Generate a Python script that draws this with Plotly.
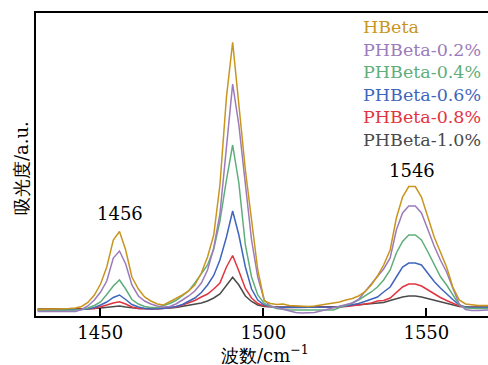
import plotly.graph_objects as go

# Wavenumber grid (cm^-1)
wavenumber = [1430.8, 1432.7, 1434.6, 1436.6, 1438.5, 1440.4, 1442.4, 1444.3, 1446.2, 1448.2,
              1450.1, 1452.0, 1454.0, 1455.9, 1457.8, 1459.7, 1461.7, 1463.6, 1465.5, 1467.5,
              1469.4, 1471.3, 1473.2, 1475.2, 1477.1, 1479.0, 1481.0, 1482.9, 1484.8, 1486.7,
              1488.7, 1490.6, 1492.5, 1494.5, 1496.4, 1498.3, 1500.3, 1502.2, 1504.1, 1506.0,
              1508.0, 1509.9, 1511.8, 1513.8, 1515.7, 1517.6, 1519.6, 1521.5, 1523.4, 1525.3,
              1527.3, 1529.2, 1531.1, 1533.1, 1535.0, 1536.9, 1538.9, 1540.8, 1542.7, 1544.6,
              1546.6, 1548.5, 1550.4, 1552.4, 1554.3, 1556.2, 1558.1, 1560.1, 1562.0, 1563.9,
              1565.9, 1567.8, 1569.7]

hbeta = [-0.005, 0, 0, 0, 0, 0.005, 0.01, 0.025, 0.065, 0.14,
         0.25, 0.42, 0.69, 0.775, 0.59, 0.32, 0.20, 0.12, 0.08, 0.05,
         0.04, 0.07, 0.105, 0.14, 0.18, 0.24, 0.36, 0.52, 0.74, 1.24,
         2.12, 2.667, 2.04, 1.39, 0.89, 0.39, 0.08, 0.055, 0.045, 0.05,
         0.035, 0.03, 0.025, 0.025, 0.03, 0.04, 0.05, 0.06, 0.07, 0.09,
         0.105, 0.13, 0.17, 0.24, 0.33, 0.44, 0.59, 0.91, 1.12, 1.225,
         1.225, 1.12, 0.92, 0.72, 0.57, 0.42, 0.22, 0.09, 0.05, 0.04,
         0.035, 0.035, 0.035]

phbeta_02 = [-0.025, -0.025, -0.025, -0.025, -0.03, -0.03, -0.025, -0.005, 0.03, 0.09,
             0.17, 0.28, 0.51, 0.58, 0.45, 0.24, 0.13, 0.08, 0.05, 0.03,
             0.02, 0.025, 0.05, 0.09, 0.13, 0.18, 0.26, 0.39, 0.61, 0.95,
             1.59, 2.25, 1.84, 1.24, 0.69, 0.32, 0.09, 0.03, 0.015, 0.0,
             -0.02, -0.035, -0.04, -0.04, -0.035, -0.02, -0.005, 0.015, 0.03, 0.04,
             0.06, 0.095, 0.17, 0.25, 0.32, 0.40, 0.51, 0.79, 0.96, 1.03,
             1.03, 0.96, 0.80, 0.63, 0.49, 0.37, 0.21, 0.05, -0.005, -0.015,
             -0.015, -0.01, -0.01]

phbeta_04 = [-0.015, -0.015, -0.015, -0.015, -0.015, -0.015, -0.01, -0.005, 0.01, 0.035,
             0.07, 0.145, 0.23, 0.29, 0.20, 0.095, 0.05, 0.025, 0.015, 0.015,
             0.035, 0.055, 0.085, 0.135, 0.18, 0.26, 0.35, 0.44, 0.60, 0.88,
             1.29, 1.64, 1.26, 0.64, 0.32, 0.14, 0.055, 0.025, 0.005, -0.005,
             -0.01, -0.01, -0.01, -0.01, -0.01, -0.01, -0.01, -0.01, 0.015, 0.035,
             0.06, 0.09, 0.13, 0.17, 0.22, 0.29, 0.39, 0.56, 0.675, 0.74,
             0.74, 0.69, 0.575, 0.44, 0.325, 0.24, 0.14, 0.04, 0.01, 0.005,
             0.005, 0.005, 0.005]

phbeta_06 = [-0.01, -0.01, -0.01, -0.01, -0.01, -0.01, -0.01, -0.005, 0.0, 0.015,
             0.04, 0.07, 0.115, 0.14, 0.095, 0.045, 0.02, 0.005, 0.0, 0.0,
             0.005, 0.015, 0.025, 0.045, 0.075, 0.11, 0.165, 0.24, 0.335, 0.49,
             0.72, 0.98, 0.74, 0.42, 0.20, 0.09, 0.04, 0.025, 0.015, 0.015,
             0.015, 0.015, 0.015, 0.015, 0.015, 0.015, 0.015, 0.015, 0.02, 0.03,
             0.04, 0.055, 0.075, 0.095, 0.12, 0.17, 0.22, 0.32, 0.42, 0.46,
             0.46, 0.44, 0.36, 0.275, 0.21, 0.15, 0.095, 0.04, 0.02, 0.015,
             0.015, 0.015, 0.015]

phbeta_08 = [-0.005, -0.005, -0.005, -0.005, -0.005, -0.005, -0.005, -0.005, 0.0, 0.005,
             0.02, 0.04, 0.06, 0.073, 0.05, 0.02, 0.005, 0.0, 0.0, 0.0,
             0.005, 0.01, 0.02, 0.04, 0.06, 0.085, 0.12, 0.15, 0.20, 0.26,
             0.42, 0.535, 0.38, 0.205, 0.11, 0.055, 0.03, 0.02, 0.015, 0.015,
             0.015, 0.015, 0.015, 0.015, 0.015, 0.015, 0.015, 0.015, 0.02, 0.025,
             0.03, 0.04, 0.05, 0.06, 0.08, 0.085, 0.11, 0.17, 0.22, 0.25,
             0.25, 0.23, 0.19, 0.15, 0.115, 0.085, 0.055, 0.03, 0.02, 0.015,
             0.015, 0.015, 0.015]

phbeta_10 = [0, 0, 0, 0, 0, 0, 0, 0, 0, 0.005,
             0.01, 0.015, 0.025, 0.03, 0.02, 0.01, 0.005, 0.005, 0.005, 0.005,
             0.005, 0.01, 0.015, 0.025, 0.035, 0.045, 0.06, 0.08, 0.11, 0.15,
             0.24, 0.317, 0.24, 0.13, 0.075, 0.04, 0.025, 0.02, 0.02, 0.02,
             0.02, 0.02, 0.02, 0.02, 0.02, 0.02, 0.02, 0.02, 0.025, 0.03,
             0.035, 0.04, 0.045, 0.05, 0.055, 0.065, 0.085, 0.105, 0.12, 0.13,
             0.13, 0.12, 0.105, 0.09, 0.075, 0.06, 0.04, 0.025, 0.02, 0.02,
             0.02, 0.02, 0.02]

series_names = ["HBeta", "PHBeta-0.2%", "PHBeta-0.4%", "PHBeta-0.6%", "PHBeta-0.8%", "PHBeta-1.0%"]
series_values = [hbeta, phbeta_02, phbeta_04, phbeta_06, phbeta_08, phbeta_10]
series_colors = ["#C8961E", "#9B7BBA", "#5FAE7A", "#3F66BC", "#E2343F", "#4A4A4A"]

peak_labels = ["1456", "1546"]
x_tick_vals = [1450, 1500, 1550]

SERIF = "DejaVu Serif"
FS = 17
FS_LEG = 17.5

fig = go.Figure()
# draw weakest first so HBeta is on top
for name, vals, col in reversed(list(zip(series_names, series_values, series_colors))):
    fig.add_trace(go.Scatter(x=wavenumber, y=vals, mode="lines", name=name,
                             line=dict(color=col, width=1.5), showlegend=False))

annotations = []
# legend texts
leg_y_px = [27, 49.6, 72.2, 94.8, 117.4, 140]
for name, col, py in zip(series_names, series_colors, leg_y_px):
    annotations.append(dict(text=name, xref="paper", yref="paper",
                            x=(361 - 36) / 452, y=(316 - py) / 303,
                            xanchor="left", yanchor="middle", showarrow=False,
                            font=dict(family=SERIF, size=FS_LEG, color=col)))
# peak labels
annotations.append(dict(text=peak_labels[0], xref="paper", yref="paper",
                        x=(120 - 36) / 452, y=(316 - 213.5) / 303,
                        xanchor="center", yanchor="middle", showarrow=False,
                        font=dict(family=SERIF, size=FS + 1, color="black")))
annotations.append(dict(text=peak_labels[1], xref="paper", yref="paper",
                        x=(412 - 36) / 452, y=(316 - 170.5) / 303,
                        xanchor="center", yanchor="middle", showarrow=False,
                        font=dict(family=SERIF, size=FS + 1, color="black")))
# axis titles
annotations.append(dict(text="波数/cm<sup>−1</sup>", xref="paper", yref="paper",
                        x=(265 - 36) / 452, y=(316 - 354) / 303,
                        xanchor="center", yanchor="middle", showarrow=False,
                        font=dict(family=SERIF, size=18, color="black")))
annotations.append(dict(text="吸光度/a.u.", xref="paper", yref="paper",
                        x=(21 - 36) / 452, y=(316 - 168) / 303, textangle=-90,
                        xanchor="center", yanchor="middle", showarrow=False,
                        font=dict(family=SERIF, size=18, color="black")))

fig.update_layout(
    width=488, height=365,
    margin=dict(l=36, r=0, t=13, b=49),
    paper_bgcolor="white", plot_bgcolor="white",
    font=dict(family=SERIF),
    annotations=annotations,
    xaxis=dict(range=[1430.3, 1568.9], tickvals=x_tick_vals, ticks="inside", ticklen=8,
               tickwidth=1.5, tickcolor="black", showline=True, linecolor="black",
               linewidth=1.5, mirror=True, showgrid=False, zeroline=False,
               tickfont=dict(family=SERIF, size=FS + 1, color="black")),
    yaxis=dict(range=[-0.07, 2.96], showticklabels=False, ticks="", showline=True,
               linecolor="black", linewidth=1.5, mirror=False, showgrid=False,
               zeroline=False),
)

fig.write_html("out.html")
